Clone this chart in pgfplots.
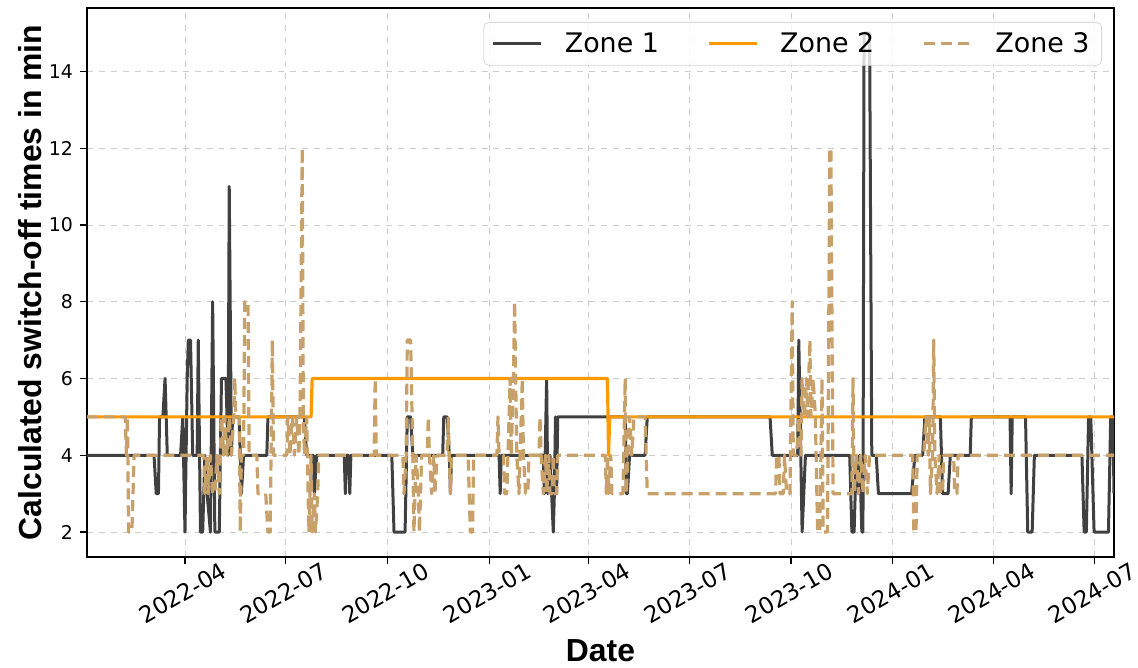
\documentclass[border=0pt]{standalone}
\usepackage{fontspec}
\setmainfont{DejaVu Sans}
\newfontfamily\labfont{Liberation Sans}
\usepackage{pgfplots}
\pgfplotsset{compat=1.18}
\definecolor{zoneone}{RGB}{64,64,64}
\definecolor{zonetwo}{RGB}{255,153,0}
\definecolor{zonethree}{RGB}{199,161,105}
\begin{document}
\begin{tikzpicture}
\begin{axis}[
  scale only axis, width=513.5bp, height=274.5bp,
  xmin=1.4, xmax=930, ymin=1.35, ymax=15.65,
  xtick={90,181,273,365,455,546,638,730,821,912},
  xticklabels={2022-04,2022-07,2022-10,2023-01,2023-04,2023-07,2023-10,2024-01,2024-04,2024-07},
  ytick={2,4,6,8,10,12,14},
  tick pos=left, tick align=outside, major tick length=3.5bp,
  tick style={black, line width=0.6bp},
  axis line style={line width=0.6bp},
  grid=major, grid style={dashed, line width=0.4bp, black!20},
  /pgf/number format/assume math mode=true,
  yticklabel style={font=\fontsize{9.5}{11}\selectfont},
  xticklabel style={font=\fontsize{11.5}{13}\selectfont, yshift=-14.5bp, xshift=-1bp, rotate=30, anchor=center},
  xlabel={Date}, ylabel={Calculated switch-off times in min},
  label style={font=\labfont\bfseries\fontsize{16}{19}\selectfont},
  xlabel style={at={(axis description cs:0.5,-0.17)}, anchor=center},
  ylabel style={at={(axis description cs:-0.0555,0.5)}, anchor=center},
  legend columns=3,
  legend cell align=left,
  legend style={at={(axis description cs:1,1)}, anchor=north east, xshift=-6bp, yshift=-7bp,
    draw=black!15, rounded corners=2.5bp, fill=white, fill opacity=0.8, text opacity=1,
    font=\fontsize{13.5}{16}\selectfont, inner xsep=4bp, inner ysep=3bp,
    /tikz/every odd column/.append style={column sep=9bp},
    /tikz/every even column/.append style={column sep=22bp}},
  legend image code/.code={\draw[#1] (0bp,0bp) -- (24bp,0bp);},
]
\addplot[zoneone, line width=1.5bp, line join=round] coordinates {
(1,4) (62,4) (64,3) (66,3) (67,5) (70,5) (72,6) (74,4) (86,4) (88,5) (90,2) (92,6) (93,7) (95,7) (97,4) (101,4) (102,7) (104,2) (106,2) (108,4) (110,3) (113,2) (115,8) (117,2) (121,2) (123,6) (127,6) (129,4) (130,11) (132,4) (133,5) (139,5) (141,3) (143,4) (164,4) (165,5) (198,5) (200,4) (206,4) (207,3) (209,4) (234,4) (235,3) (236,4) (238,4) (239,3) (240,4) (277,4) (279,2) (289,2) (291,5) (294,5) (296,4) (323,4) (324,5) (327,5) (329,4) (330,3) (331,4) (374,4) (375,3) (376,4) (414,4) (415,3) (417,6) (418,3) (420,4) (423,2) (424,3) (425,5) (426,3) (427,5) (488,5) (489,3) (490,3) (492,4) (506,4) (508,5) (619,5) (621,4) (644,4) (645,7) (648,2) (651,4) (691,4) (693,2) (695,2) (697,4) (699,3) (700,4) (702,2) (703,2) (704,15) (709,15) (711,4) (715,4) (717,3) (747,3) (750,4) (757,4) (759,5) (773,5) (775,3) (780,3) (782,4) (800,4) (801,5) (836,5) (837,3) (838,5) (850,5) (852,2) (856,2) (858,4) (901,4) (903,2) (905,2) (907,5) (909,5) (912,2) (925,2) (927,5) (929,5) (930,3)
};
\addlegendentry{Zone 1}
\addplot[zonetwo, line width=1.6bp, line join=round] coordinates {
(1,5) (204,5) (205,6) (472,6) (473,4) (474,5) (930,5)
};
\addlegendentry{Zone 2}
\addplot[zonethree, line width=1.6bp, line join=round, dash pattern=on 5.5bp off 3bp] coordinates {
(1,5) (36,5) (37,4) (38,5) (39,2) (42,2) (44,4) (107,4) (108,3) (110,4) (111,3) (113,4) (115,3) (117,3) (119,4) (121,3) (122,4) (123,5) (125,4) (126,5) (128,4) (130,5) (132,4) (134,5) (135,6) (136,5) (139,5) (140,2) (141,4) (143,4) (144,8) (147,8) (148,4) (155,4) (156,3) (163,3) (165,2) (167,2) (169,7) (170,4) (182,4) (183,5) (185,4) (187,5) (189,4) (191,5) (193,4) (194,5) (196,12) (197,5) (198,4) (200,5) (202,2) (204,4) (205,2) (207,3) (208,2) (210,3) (211,4) (261,4) (262,6) (263,4) (287,4) (288,3) (290,4) (291,7) (294,7) (296,4) (297,2) (299,4) (301,3) (302,2) (304,4) (309,4) (310,5) (311,4) (313,3) (315,4) (316,3) (318,4) (327,4) (328,5) (329,4) (330,3) (331,4) (346,4) (347,3) (348,2) (350,2) (351,4) (372,4) (373,5) (374,4) (378,4) (379,3) (381,3) (382,4) (384,6) (385,4) (387,6) (388,8) (389,6) (390,4) (392,3) (393,4) (395,6) (396,4) (398,3) (400,3) (401,4) (410,4) (411,5) (412,4) (414,3) (416,4) (417,3) (419,4) (420,3) (422,3) (423,4) (424,3) (426,3) (427,4) (470,4) (471,3) (472,4) (473,3) (475,4) (476,3) (486,3) (488,6) (489,3) (492,5) (494,4) (496,5) (506,5) (508,3) (624,3) (625,4) (627,4) (628,3) (631,3) (632,4) (634,3) (637,3) (639,8) (640,4) (643,4) (645,5) (647,4) (648,6) (650,5) (652,6) (653,5) (655,7) (656,5) (658,6) (660,5) (662,2) (664,2) (666,6) (667,2) (671,2) (673,12) (674,12) (676,3) (693,3) (694,6) (695,3) (697,4) (699,3) (701,4) (703,3) (705,4) (707,3) (709,4) (748,4) (749,2) (751,2) (752,4) (758,4) (760,5) (762,4) (763,5) (764,3) (766,4) (767,7) (768,4) (770,3) (772,4) (773,3) (775,3) (776,4) (785,4) (786,3) (788,3) (789,4) (930,4)
};
\addlegendentry{Zone 3}
\coordinate (SW) at (rel axis cs:0,0);
\coordinate (NE) at (rel axis cs:1,1);
\end{axis}
\pgfresetboundingbox
\path ([shift={(-43.5bp,-55.5bp)}]SW) rectangle ([shift={(12bp,4bp)}]NE);
\end{tikzpicture}
\end{document}
